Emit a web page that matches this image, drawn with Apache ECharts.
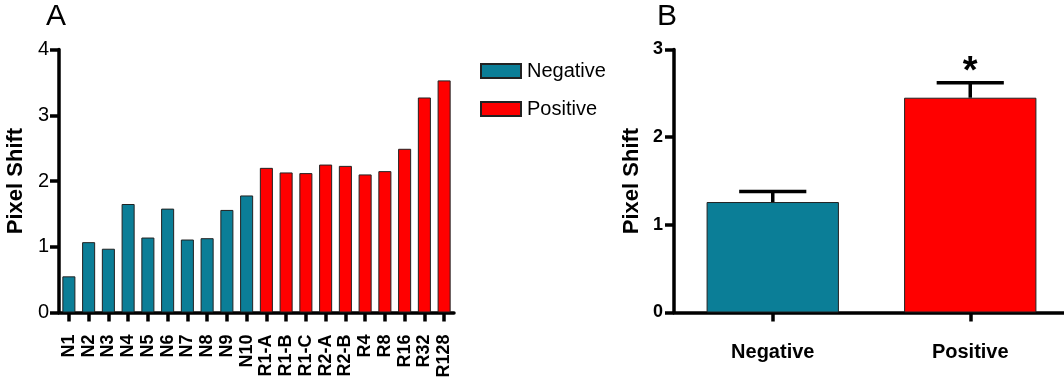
<!DOCTYPE html>
<html>
<head>
<meta charset="utf-8">
<script src="https://cdn.jsdelivr.net/npm/echarts@6/dist/echarts.min.js"></script>
<style>
  html, body { margin: 0; padding: 0; background: #fff; }
  #chart { width: 1064px; height: 377px; }
</style>
</head>
<body>
<div id="chart"></div>
<script>
// panel A: individual samples
let samplesA = ['N1', 'N2', 'N3', 'N4', 'N5', 'N6', 'N7', 'N8', 'N9', 'N10',
  'R1-A', 'R1-B', 'R1-C', 'R2-A', 'R2-B', 'R4', 'R8', 'R16', 'R32', 'R128']
let negativeA = [0.55, 1.07, 0.97, 1.65, 1.14, 1.58, 1.11, 1.13, 1.56, 1.78,
  null, null, null, null, null, null, null, null, null, null]
let positiveA = [null, null, null, null, null, null, null, null, null, null,
  2.20, 2.13, 2.12, 2.25, 2.23, 2.10, 2.15, 2.49, 3.27, 3.53]
let ticksA = [0, 1, 2, 3, 4]

// panel B: group means with SEM
let groupsB = ['Negative', 'Positive']
let meansB = [1.26, 2.45]
let semB = [0.12, 0.17]
let sigB = ['', '*']
let ticksB = [0, 1, 2, 3]

let teal = '#0b7e97'
let red = '#ff0000'
let font = 'Arial, "Liberation Sans", sans-serif'

function axisLine () {
  return { show: true, lineStyle: { color: '#000', width: 3.5 } }
}
function axisTick (align) {
  return { show: true, alignWithLabel: align, length: 9, lineStyle: { color: '#000', width: 3.5 } }
}

let chart = echarts.init(document.getElementById('chart'))
chart.setOption({
  animation: false,
  textStyle: { fontFamily: font },
  title: [
    { text: 'A', left: 46, top: 2, padding: 0, textStyle: { fontSize: 30, fontWeight: 'normal', color: '#000', fontFamily: font } },
    { text: 'B', left: 657, top: 2, padding: 0, textStyle: { fontSize: 30, fontWeight: 'normal', color: '#000', fontFamily: font } }
  ],
  legend: {
    data: ['Negative', 'Positive'],
    orient: 'vertical',
    left: 480,
    top: 61,
    padding: 0,
    itemWidth: 40,
    itemHeight: 14,
    itemGap: 18,
    icon: 'rect',
    textStyle: { fontSize: 20, color: '#000', fontFamily: font, padding: [0, 0, 0, 1] }
  },
  grid: [
    { left: 59, top: 49.5, width: 395, height: 263, outerBoundsMode: 'none', containLabel: false },
    { left: 674, top: 49.5, width: 395, height: 263, outerBoundsMode: 'none', containLabel: false }
  ],
  xAxis: [
    {
      type: 'category',
      gridIndex: 0,
      data: samplesA,
      axisLine: axisLine(),
      axisTick: axisTick(true),
      axisLabel: { rotate: 90, margin: 22, interval: 0, fontSize: 18, fontWeight: 'bold', color: '#000', fontFamily: font }
    },
    {
      type: 'category',
      gridIndex: 1,
      data: groupsB,
      axisLine: axisLine(),
      axisTick: axisTick(true),
      axisLabel: { margin: 30, fontSize: 20, fontWeight: 'bold', color: '#000', fontFamily: font }
    }
  ],
  yAxis: [
    {
      type: 'value',
      gridIndex: 0,
      min: ticksA[0],
      max: ticksA[ticksA.length - 1],
      interval: 1,
      name: 'Pixel Shift',
      nameLocation: 'middle',
      nameGap: 32,
      nameTextStyle: { fontSize: 22, fontWeight: 'bold', color: '#000', fontFamily: font },
      splitLine: { show: false },
      axisLine: axisLine(),
      axisTick: axisTick(false),
      axisLabel: { margin: 10, fontSize: 20, color: '#000', fontFamily: font }
    },
    {
      type: 'value',
      gridIndex: 1,
      min: ticksB[0],
      max: ticksB[ticksB.length - 1],
      interval: 1,
      name: 'Pixel Shift',
      nameLocation: 'middle',
      nameGap: 31,
      nameTextStyle: { fontSize: 22, fontWeight: 'bold', color: '#000', fontFamily: font },
      splitLine: { show: false },
      axisLine: axisLine(),
      axisTick: axisTick(false),
      axisLabel: { margin: 11, fontSize: 18, fontWeight: 'bold', color: '#000', fontFamily: font }
    }
  ],
  series: [
    {
      name: 'Negative',
      type: 'bar',
      xAxisIndex: 0,
      yAxisIndex: 0,
      barWidth: '66%',
      barGap: '-100%',
      itemStyle: { color: teal, borderColor: '#222', borderWidth: 1 },
      data: negativeA
    },
    {
      name: 'Positive',
      type: 'bar',
      xAxisIndex: 0,
      yAxisIndex: 0,
      barWidth: '66%',
      barGap: '-100%',
      itemStyle: { color: red, borderColor: '#222', borderWidth: 1 },
      data: positiveA
    },
    {
      name: 'Mean',
      type: 'bar',
      xAxisIndex: 1,
      yAxisIndex: 1,
      barWidth: '67%',
      data: meansB.map((v, i) => ({
        value: v,
        itemStyle: { color: i === 0 ? teal : red, borderColor: '#222', borderWidth: 1 }
      }))
    },
    {
      name: 'SEM',
      type: 'custom',
      xAxisIndex: 1,
      yAxisIndex: 1,
      z: 5,
      data: meansB.map((v, i) => [i, v, v + semB[i]]),
      renderItem: (params, api) => {
        let i = api.value(0)
        let base = api.coord([i, api.value(1)])
        let top = api.coord([i, api.value(2)])
        let half = api.size([1, 0])[0] * 0.17
        let style = { stroke: '#000', lineWidth: 3.5 }
        let children = [
          { type: 'line', shape: { x1: base[0], y1: base[1], x2: top[0], y2: top[1] }, style: style },
          { type: 'line', shape: { x1: top[0] - half, y1: top[1], x2: top[0] + half, y2: top[1] }, style: style }
        ]
        if (sigB[i]) {
          children.push({
            type: 'text',
            style: {
              text: sigB[i],
              x: top[0],
              y: top[1] - 10,
              align: 'center',
              verticalAlign: 'middle',
              fontSize: 38,
              fontWeight: 'bold',
              fontFamily: font,
              fill: '#000'
            }
          })
        }
        return { type: 'group', children: children }
      }
    }
  ]
})
</script>
</body>
</html>
